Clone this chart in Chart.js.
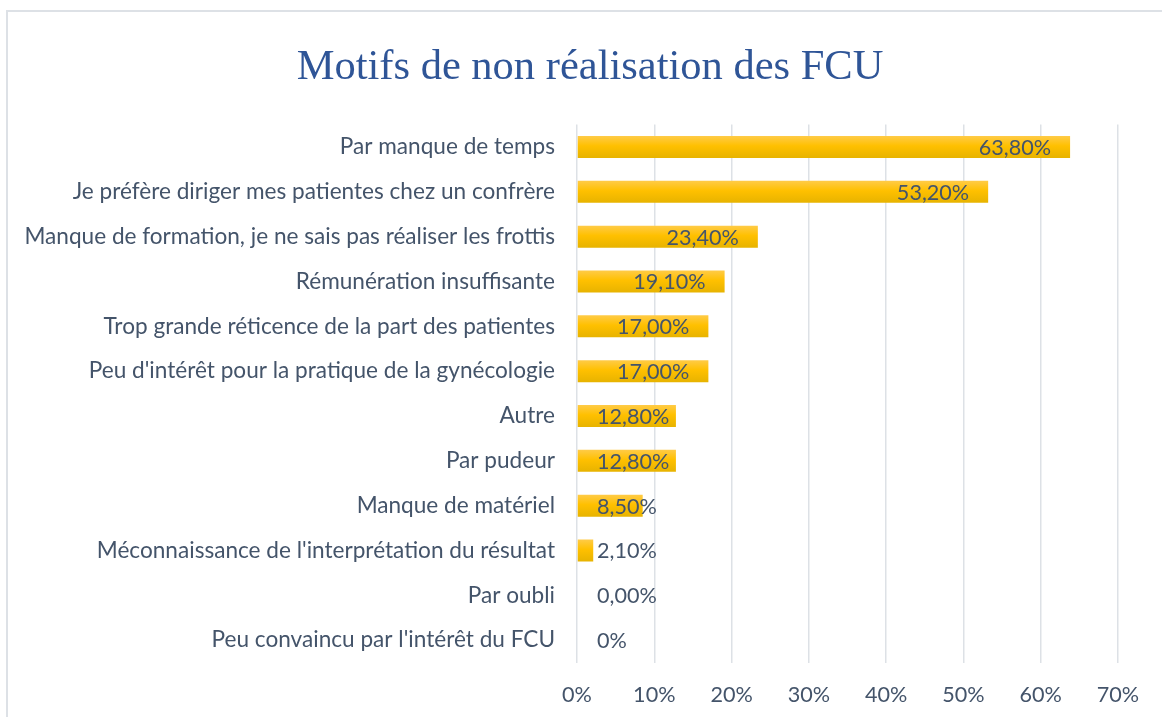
<!DOCTYPE html>
<html>
<head>
<meta charset="utf-8">
<script src="https://cdn.jsdelivr.net/npm/chart.js@4/dist/chart.umd.min.js"></script>
<style>
  html, body { margin: 0; padding: 0; background: #fff; }
  #wrap { width: 1162px; height: 717px; position: relative; }
</style>
</head>
<body>
<div id="wrap"><canvas id="c" width="1162" height="717"></canvas></div>
<script>
const categories = [
  "Par manque de temps",
  "Je préfère diriger mes patientes chez un confrère",
  "Manque de formation, je ne sais pas réaliser les frottis",
  "Rémunération insuffisante",
  "Trop grande réticence de la part des patientes",
  "Peu d'intérêt pour la pratique de la gynécologie",
  "Autre",
  "Par pudeur",
  "Manque de matériel",
  "Méconnaissance de l'interprétation du résultat",
  "Par oubli",
  "Peu convaincu par l'intérêt du FCU"
];
const values = [63.8, 53.2, 23.4, 19.1, 17.0, 17.0, 12.8, 12.8, 8.5, 2.1, 0, 0];
const valueLabels = ["63,80%", "53,20%", "23,40%", "19,10%", "17,00%", "17,00%", "12,80%", "12,80%", "8,50%", "2,10%", "0,00%", "0%"];
const tickValues = [0, 10, 20, 30, 40, 50, 60, 70];
const titleText = "Motifs de non réalisation des FCU";

const FONT = "Lato, 'Liberation Sans', sans-serif";
const TEXT = "#44546A";
const FS_CAT = 22.6;
const FS_NUM = 21.6;

const borderPlugin = {
  id: 'outerBorder',
  beforeDraw(chart) {
    const ctx = chart.ctx;
    ctx.save();
    ctx.fillStyle = '#fff';
    ctx.fillRect(0, 0, chart.width, chart.height);
    ctx.strokeStyle = '#DDE1E6';
    ctx.lineWidth = 2;
    ctx.strokeRect(7, 11, chart.width + 10, chart.height + 10);
    ctx.restore();
  },
  afterDraw(chart) {
    const ctx = chart.ctx;
    ctx.save();
    ctx.font = "42.5px 'Liberation Serif', 'Times New Roman', serif";
    ctx.fillStyle = '#2F5597';
    ctx.textAlign = 'center';
    ctx.textBaseline = 'alphabetic';
    ctx.fillText(titleText, 590, 79);
    ctx.restore();
  }
};

const labelPlugin = {
  id: 'valueLabels',
  afterDatasetsDraw(chart) {
    const ctx = chart.ctx;
    const meta = chart.getDatasetMeta(0);
    const x0 = chart.scales.x.getPixelForValue(0);
    ctx.save();
    ctx.font = FS_NUM + "px " + FONT;
    ctx.fillStyle = TEXT;
    ctx.textBaseline = 'middle';
    ctx.textAlign = 'left';
    meta.data.forEach((bar, i) => {
      const txt = valueLabels[i];
      const w = ctx.measureText(txt).width;
      const xEnd = bar.x;
      const x = Math.max(x0 + 20, xEnd - 19 - w);
      ctx.fillText(txt, x, bar.y + 1);
    });
    ctx.restore();
  }
};

const ctx = document.getElementById('c').getContext('2d');
function barGradient(context) {
  const chart = context.chart;
  const ys = chart.scales && chart.scales.y;
  if (!ys || context.dataIndex === undefined) return '#FFC000';
  const y = ys.getPixelForValue(context.dataIndex);
  if (!isFinite(y)) return '#FFC000';
  const h = 22;
  const g = chart.ctx.createLinearGradient(0, y - h / 2, 0, y + h / 2);
  g.addColorStop(0, '#FFCB47');
  g.addColorStop(0.45, '#FFC000');
  g.addColorStop(1, '#E7B300');
  return g;
}

new Chart(ctx, {
  type: 'bar',
  data: {
    labels: categories,
    datasets: [{
      data: values,
      backgroundColor: barGradient,
      borderWidth: 0,
      categoryPercentage: 1,
      barPercentage: 0.49
    }]
  },
  options: {
    indexAxis: 'y',
    responsive: false,
    animation: false,
    events: [],
    layout: { padding: { left: 7, right: 44, top: 124.6, bottom: 0 } },
    plugins: {
      legend: { display: false },
      tooltip: { enabled: false },
      title: { display: false }
    },
    scales: {
      x: {
        min: 0, max: 70,
        afterBuildTicks(scale) { scale.ticks = tickValues.map(v => ({ value: v })); },
        afterFit(scale) { scale.height = 54.4; },
        grid: { color: '#DDE1E6', lineWidth: 1.5, drawTicks: false },
        border: { display: false },
        ticks: {
          color: TEXT, padding: 19,
          font: { family: FONT, size: FS_NUM },
          callback: (v) => v + '%'
        }
      },
      y: {
        afterFit(scale) { scale.width = 570; },
        grid: { display: false, drawTicks: false },
        border: { display: false },
        ticks: {
          color: TEXT, padding: 22,
          font: { family: FONT, size: FS_CAT }
        }
      }
    }
  },
  plugins: [borderPlugin, labelPlugin]
});
</script>
</body>
</html>
